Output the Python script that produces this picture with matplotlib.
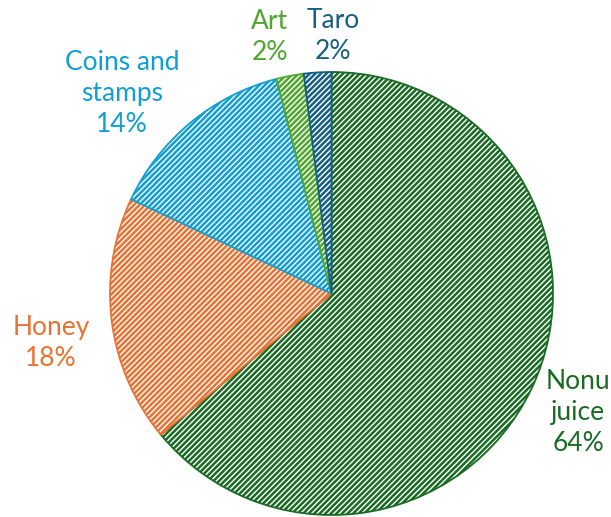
import matplotlib
matplotlib.use("Agg")
import matplotlib.pyplot as plt

# data
names = ["Nonu\njuice", "Honey", "Coins and\nstamps", "Art", "Taro"]
shares = [64, 18, 14, 2, 2]
colors = ["#196B24", "#E97132", "#0F9ED5", "#4EA72E", "#156082"]

# label positions (data units, pie radius = 1)
label_pos = [(1.113, -0.539), (-1.266, -0.223), (-0.946, 0.905),
             (-0.278, 1.158), (0.007, 1.163)]

plt.rcParams["font.family"] = ["Lato", "DejaVu Sans"]
plt.rcParams["hatch.linewidth"] = 1.8

fig = plt.figure(figsize=(6.11, 5.17), dpi=100)

r_px = 221.5
cx, cy = 331.5, 293.5
ax = fig.add_axes([(cx - r_px) / 611, (517 - cy - r_px) / 517,
                   2 * r_px / 611, 2 * r_px / 517])

wedges, _ = ax.pie(
    shares,
    colors=["white"] * len(shares),
    startangle=90,
    counterclock=False,
    radius=1,
    wedgeprops=dict(linewidth=1.3),
)

for w, c in zip(wedges, colors):
    w.set_edgecolor(c)
    w.set_hatch("//////")

for (x, y), n, s, c in zip(label_pos, names, shares, colors):
    ax.text(x, y, f"{n}\n{s}%", ha="center", va="center",
            fontsize=19, color=c, linespacing=1.3)

ax.set_xlim(-1, 1)
ax.set_ylim(-1, 1)
ax.set_aspect("equal")
ax.axis("off")

fig.savefig("out.png", dpi=100)
